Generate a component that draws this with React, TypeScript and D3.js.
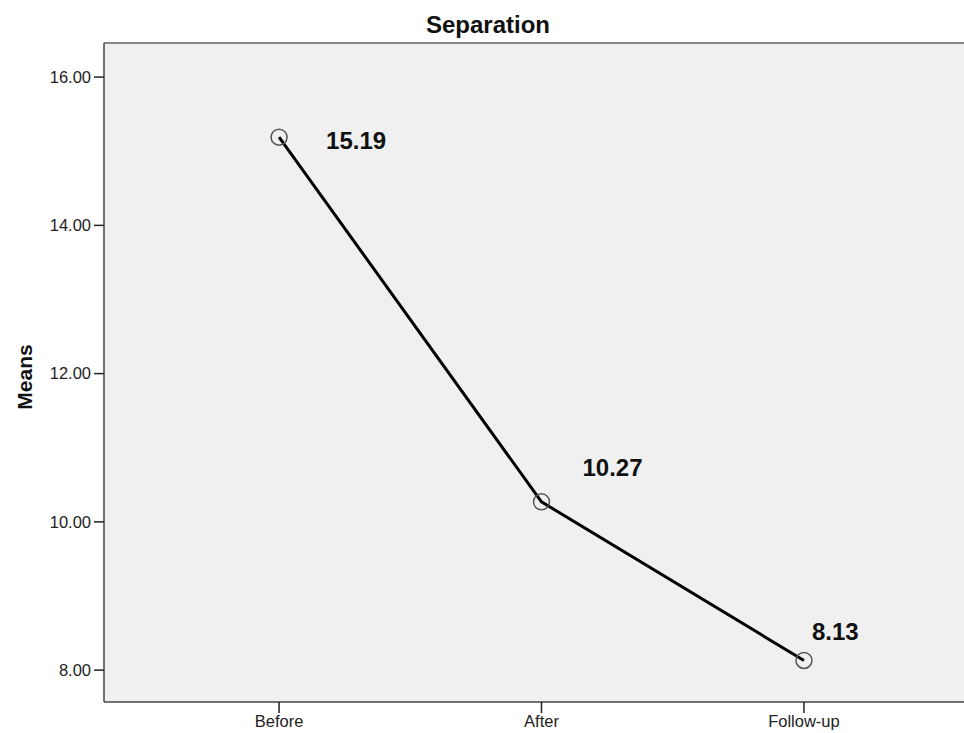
import React, { useEffect, useRef } from 'react';
import * as d3 from 'd3';

// chart values
const categories = ['Before', 'After', 'Follow-up'];
const means = [15.19, 10.27, 8.13];
const yTicks = [8, 10, 12, 14, 16];
const labelOffsets = [[47, 12], [41, -26], [8, -20]];

const W = 964;
const H = 733;
const FONT = 'Arial, "Liberation Sans", sans-serif';

const App: React.FC = () => {
  const svgRef = useRef<SVGSVGElement>(null);

  useEffect(() => {
    if (!svgRef.current) return;
    const svg = d3.select(svgRef.current);
    svg.selectAll('*').remove();

    const left = 104, top = 43, right = 979, bottom = 702;

    const x = d3.scalePoint<string>().domain(categories).range([left, right]).padding(0.667);
    const y = d3.scaleLinear().domain([7.57, 16.46]).range([bottom, top]);

    // plot background
    svg.append('rect')
      .attr('x', left).attr('y', top)
      .attr('width', right - left).attr('height', bottom - top)
      .attr('fill', '#f0f0f0');

    // frame lines
    svg.append('line')
      .attr('x1', left).attr('x2', right).attr('y1', top).attr('y2', top)
      .attr('stroke', '#888').attr('stroke-width', 2);
    svg.append('line')
      .attr('x1', left).attr('x2', left).attr('y1', top).attr('y2', bottom)
      .attr('stroke', '#444').attr('stroke-width', 1.5);
    svg.append('line')
      .attr('x1', left).attr('x2', right).attr('y1', bottom).attr('y2', bottom)
      .attr('stroke', '#444').attr('stroke-width', 1.5);

    // y axis ticks
    const yt = svg.append('g').selectAll('g').data(yTicks).enter().append('g');
    yt.append('line')
      .attr('x1', left - 10).attr('x2', left).attr('y1', d => y(d)).attr('y2', d => y(d))
      .attr('stroke', '#222').attr('stroke-width', 1.5);
    yt.append('text')
      .attr('x', left - 13).attr('y', d => y(d)).attr('dy', '0.35em')
      .attr('text-anchor', 'end')
      .style('font-family', FONT)
      .style('font-size', '16.5px').style('fill', '#222')
      .text(d => d.toFixed(2));

    // x axis ticks
    const xt = svg.append('g').selectAll('g').data(categories).enter().append('g');
    xt.append('line')
      .attr('x1', d => x(d)!).attr('x2', d => x(d)!).attr('y1', bottom).attr('y2', bottom + 11)
      .attr('stroke', '#222').attr('stroke-width', 1.5);
    xt.append('text')
      .attr('x', d => x(d)!).attr('y', 727)
      .attr('text-anchor', 'middle')
      .style('font-family', FONT)
      .style('font-size', '16.5px').style('fill', '#222')
      .text(d => d);

    // title and y label
    svg.append('text')
      .attr('x', 488).attr('y', 33).attr('text-anchor', 'middle')
      .style('font-family', FONT)
      .style('font-size', '24px').style('font-weight', 'bold').style('fill', '#111')
      .text('Separation');
    svg.append('text')
      .attr('transform', `translate(32,377) rotate(-90)`)
      .attr('text-anchor', 'middle')
      .style('font-family', FONT)
      .style('font-size', '21px').style('font-weight', 'bold').style('fill', '#111')
      .text('Means');

    // line
    const line = d3.line<number>()
      .x((d, i) => x(categories[i])!)
      .y(d => y(d));
    svg.append('path')
      .datum(means)
      .attr('d', line)
      .attr('fill', 'none').attr('stroke', '#000').attr('stroke-width', 3);

    // markers
    svg.append('g').selectAll('circle').data(means).enter().append('circle')
      .attr('cx', (d, i) => x(categories[i])!)
      .attr('cy', d => y(d))
      .attr('r', 8)
      .attr('fill', 'none').attr('stroke', '#555').attr('stroke-width', 1.5);

    // value labels
    svg.append('g').selectAll('text').data(means).enter().append('text')
      .attr('x', (d, i) => x(categories[i])! + labelOffsets[i][0])
      .attr('y', (d, i) => y(d) + labelOffsets[i][1])
      .style('font-family', FONT)
      .style('font-size', '24px').style('font-weight', 'bold').style('fill', '#111')
      .text(d => d.toFixed(2));
  }, []);

  return (
    <div style={{ position: 'absolute', left: 0, top: 0, width: W, height: H, background: '#fff' }}>
      <svg ref={svgRef} width={W} height={H} style={{ display: 'block' }} />
    </div>
  );
};

export default App;
